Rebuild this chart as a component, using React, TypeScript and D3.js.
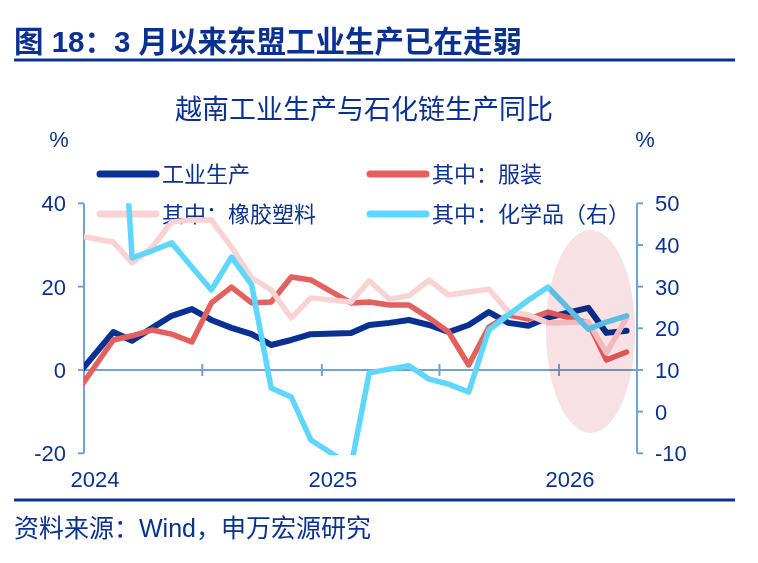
import { line, scaleLinear, scaleTime, timeMonth } from 'd3'

// Monthly YoY readings (Jan is folded into Feb in the source series)
const months = [
  '2023-12', '2024-02', '2024-03', '2024-04', '2024-05', '2024-06', '2024-07', '2024-08', '2024-09',
  '2024-10', '2024-11', '2024-12', '2025-02', '2025-03', '2025-04', '2025-05', '2025-06', '2025-07',
  '2025-08', '2025-09', '2025-10', '2025-11', '2025-12', '2026-02', '2026-03', '2026-04',
]
const industry = [
  -2.5, 9.1, 7.0, 10.1, 13.0, 14.6, 12.0, 10.1, 8.6, 6.0, 7.2, 8.6, 8.9, 10.8, 11.3, 12.0, 10.8, 9.1,
  10.8, 13.9, 11.3, 10.6, 12.6, 14.9, 8.9, 9.4,
]
const apparel = [
  -6.7, 7.2, 8.2, 9.6, 8.6, 6.7, 16.1, 19.9, 16.1, 16.3, 22.3, 21.6, 16.1, 16.3, 15.6, 15.6, 12.5, 9.1,
  1.2, 10.3, 13.2, 12.2, 13.9, 11.3, 2.4, 4.3,
]
const rubberPlastics = [
  32.4, 30.7, 25.7, 29.5, 35.5, 36.0, 36.0, 29.5, 22.1, 19.2, 12.5, 17.3, 16.3, 21.4, 17.0, 17.8, 21.6,
  18.0, 18.7, 19.4, 14.0, 13.2, 11.3, 11.5, 4.1, 12.5,
]
const chemicals = [
  75, 110, 36.9, 38.6, 40.5, 34.7, 29.2, 37.1, 30.4, 5.7, 3.5, -6.8, -13.0, 9.3, 10.2, 11.0, 7.8, 6.6,
  4.7, 19.6, 23.2, 26.8, 29.9, 19.8, 21.5, 23.0,
]

const leftTicks = [40, 20, 0, -20]
const rightTicks = [50, 40, 30, 20, 10, 0, -10]
const yearLabels = ['2024', '2025', '2026']

const width = 758
const height = 563
const plot = { left: 84, right: 637, top: 203.3, bottom: 453.3 }
const font = "'Liberation Sans', 'Noto Sans CJK SC', sans-serif"

const navy = '#0B3190'
const axisColor = '#6FA2D8'

type Series = { name: string; values: number[]; color: string; width: number; axis: 'left' | 'right' }

const series: Series[] = [
  { name: '工业生产', values: industry, color: '#0A3192', width: 6, axis: 'left' },
  { name: '其中：服装', values: apparel, color: '#E4605F', width: 5.5, axis: 'left' },
  { name: '其中：橡胶塑料', values: rubberPlastics, color: '#F9D2D3', width: 5.5, axis: 'left' },
  { name: '其中：化学品（右）', values: chemicals, color: '#5ED6FD', width: 5.5, axis: 'right' },
]

const parseMonth = (s: string) => {
  const [y, m] = s.split('-').map(Number)
  return new Date(y, m - 1, 15)
}

const dates = months.map(parseMonth)

const x = scaleTime()
  .domain([new Date(2024, 0, 1), new Date(2026, 4, 1)])
  .range([plot.left, plot.right])
const yLeft = scaleLinear().domain([-20, 40]).range([plot.bottom, plot.top])
const yRight = scaleLinear().domain([-10, 50]).range([plot.bottom, plot.top])

// recent weakening shaded with an ellipse
const highlight = { from: new Date(2025, 11, 12), to: new Date(2026, 3, 28), high: 33.6, low: -15.1 }

const App = () => {
  const monthTicks = x.ticks(timeMonth.every(6)!)

  const paths = series.map((s) => {
    const y = s.axis === 'left' ? yLeft : yRight
    const gen = line<number>()
      .x((_, i) => x(dates[i]))
      .y((v) => y(v))
    return gen(s.values) ?? ''
  })

  const hx0 = x(highlight.from)
  const hx1 = x(highlight.to)
  const hy0 = yLeft(highlight.high)
  const hy1 = yLeft(highlight.low)

  return (
    <div style={{ position: 'absolute', left: 0, top: 0 }}>
      <svg width={width} height={height} style={{ display: 'block', background: '#fff' }} fontFamily={font}>
        <defs>
          <clipPath id="plot-clip">
            <rect x={plot.left} y={plot.top} width={plot.right - plot.left} height={plot.bottom - plot.top + 2} />
          </clipPath>
        </defs>

        <text x={14} y={52} fontSize={29.5} fontWeight={700} fill={navy}>
          图 18：3 月以来东盟工业生产已在走弱
        </text>
        <line x1={14} x2={735} y1={60} y2={60} stroke={navy} strokeWidth={3} />

        <text x={364} y={119} fontSize={27} textAnchor="middle" fill={navy}>
          越南工业生产与石化链生产同比
        </text>

        <text x={59} y={147} fontSize={22} textAnchor="middle" fill={navy}>%</text>
        <text x={645} y={147} fontSize={22} textAnchor="middle" fill={navy}>%</text>

        {/* left axis */}
        <line x1={plot.left} x2={plot.left} y1={plot.top} y2={plot.bottom} stroke={axisColor} strokeWidth={2} />
        {leftTicks.map((t) => (
          <g key={t} transform={`translate(${plot.left}, ${yLeft(t)})`}>
            <line x1={-6} x2={0} stroke={axisColor} strokeWidth={2} />
            <text x={-18} dy="0.36em" fontSize={22} textAnchor="end" fill={navy}>
              {t}
            </text>
          </g>
        ))}

        {/* right axis */}
        <line x1={plot.right} x2={plot.right} y1={plot.top} y2={plot.bottom} stroke={axisColor} strokeWidth={2} />
        {rightTicks.map((t) => (
          <g key={t} transform={`translate(${plot.right}, ${yRight(t)})`}>
            <line x1={0} x2={6} stroke={axisColor} strokeWidth={2} />
            <text x={18} dy="0.36em" fontSize={22} fill={navy}>
              {t}
            </text>
          </g>
        ))}

        {/* zero line with half-year ticks */}
        <line x1={plot.left} x2={plot.right} y1={yLeft(0)} y2={yLeft(0)} stroke={axisColor} strokeWidth={2} />
        {monthTicks.map((d) => (
          <line
            key={d.toISOString()}
            x1={x(d)}
            x2={x(d)}
            y1={yLeft(0) - 6}
            y2={yLeft(0) + 6}
            stroke={axisColor}
            strokeWidth={2}
          />
        ))}

        {yearLabels.map((label) => (
          <text
            key={label}
            x={x(new Date(Number(label), 0, 18))}
            y={487}
            fontSize={22}
            textAnchor="middle"
            fill={navy}
          >
            {label}
          </text>
        ))}

        {/* legend */}
        {series.map((s, i) => {
          const lx = i % 2 === 0 ? 100 : 370
          const ly = i < 2 ? 174 : 214
          return (
            <g key={s.name}>
              <line x1={lx} x2={lx + 56} y1={ly} y2={ly} stroke={s.color} strokeWidth={7} strokeLinecap="round" />
              <text x={lx + 62} y={ly + 8} fontSize={22} fill={navy}>
                {s.name}
              </text>
            </g>
          )
        })}

        <g clipPath="url(#plot-clip)">
          {series.map((s, i) => (
            <path
              key={s.name}
              d={paths[i]}
              fill="none"
              stroke={s.color}
              strokeWidth={s.width}
              strokeLinejoin="round"
              strokeLinecap="round"
            />
          ))}
        </g>

        <ellipse
          cx={(hx0 + hx1) / 2}
          cy={(hy0 + hy1) / 2}
          rx={(hx1 - hx0) / 2}
          ry={(hy1 - hy0) / 2}
          fill="#F8E1E4"
          style={{ mixBlendMode: 'multiply' }}
        />

        <line x1={14} x2={735} y1={500} y2={500} stroke={navy} strokeWidth={3} />
        <text x={14} y={537} fontSize={25} fill={navy}>
          资料来源：Wind，申万宏源研究
        </text>
      </svg>
    </div>
  )
}

export default App
